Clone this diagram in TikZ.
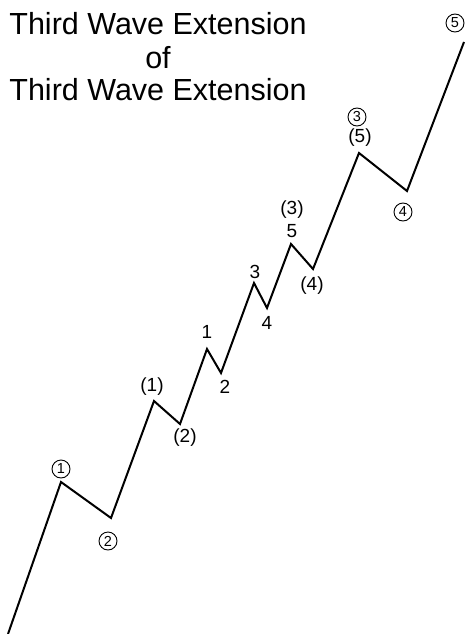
\documentclass[tikz,border=0pt]{standalone}
\usepackage{fontspec}
\setmainfont{Liberation Sans}
\begin{document}
\begin{tikzpicture}[x=1pt,y=-1pt,
  wave/.style={line width=2pt,line join=miter},
  lbl/.style={font=\fontsize{19}{19}\selectfont,inner sep=0pt},
  circ/.style={draw,circle,line width=0.9pt,inner sep=0pt,minimum size=18pt,font=\fontsize{14.5}{14.5}\selectfont},
  ttl/.style={font=\fontsize{30.5}{30.5}\selectfont,anchor=base,inner sep=0pt}]
\useasboundingbox (0,0) rectangle (465,634);
% title
\node[ttl] (t1) at (158,35) {Third Wave Extension};
\node[ttl] (t2) at (158,68) {of};
\node[ttl] (t3) at (158,100) {Third Wave Extension};
% wave vertices
\coordinate (s) at (8,634);
\coordinate (p1) at (61,482);
\coordinate (p2) at (111,518);
\coordinate (q1) at (154,401);
\coordinate (q2) at (180,424);
\coordinate (r1) at (207,349);
\coordinate (r2) at (221,373);
\coordinate (r3) at (254,283);
\coordinate (r4) at (267,308);
\coordinate (r5) at (291,244);
\coordinate (q4) at (313,269);
\coordinate (p3) at (359,153);
\coordinate (p4) at (407,191);
\coordinate (p5) at (464,42);
\draw[wave] (s) -- (p1) -- (p2) -- (q1) -- (q2) -- (r1) -- (r2) -- (r3) -- (r4) -- (r5) -- (q4) -- (p3) -- (p4) -- (p5);
% labels
\node[circ] (c1) at (61,469) {1};
\node[circ] (c2) at (108,541) {2};
\node[circ] (c3) at (357,117) {3};
\node[circ] (c4) at (403,212) {4};
\node[circ] (c5) at (455,23) {5};
\node[lbl] (l1) at (152,387) {(1)};
\node[lbl] (l2) at (185,438) {(2)};
\node[lbl] (m1) at (207,332) {1};
\node[lbl] (m2) at (225,387) {2};
\node[lbl] (m3) at (255,272) {3};
\node[lbl] (m4) at (267,323) {4};
\node[lbl] (m5) at (292,231) {5};
\node[lbl] (l3) at (292,210) {(3)};
\node[lbl] (l4) at (312,286) {(4)};
\node[lbl] (l5) at (360,138) {(5)};
\end{tikzpicture}
\end{document}
